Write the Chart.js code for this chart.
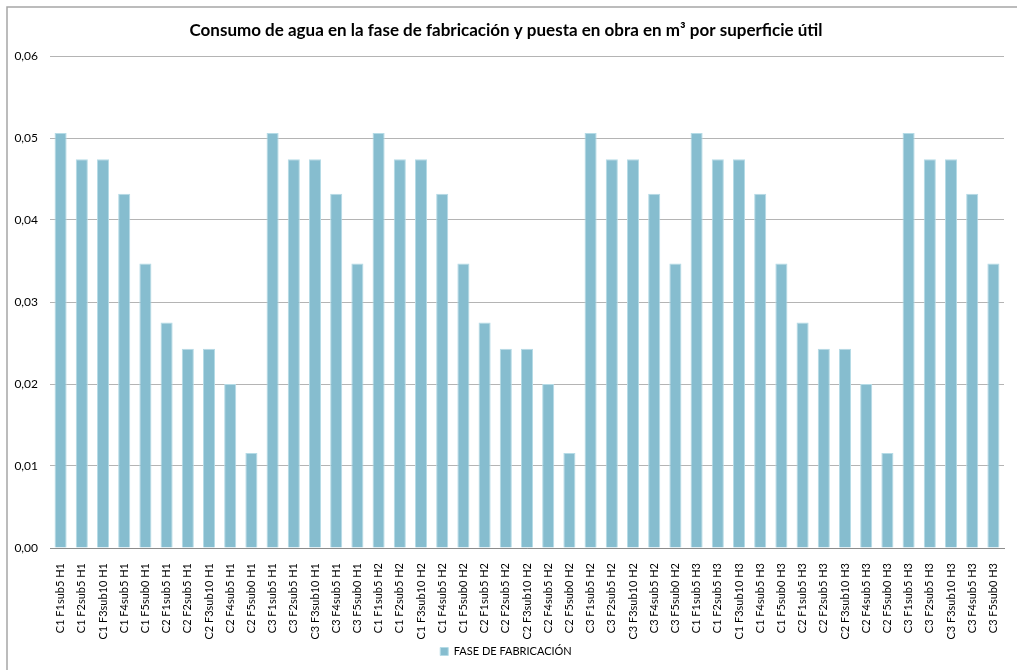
<!DOCTYPE html>
<html>
<head>
<meta charset="utf-8">
<script src="https://cdn.jsdelivr.net/npm/chart.js@4"></script>
<style>
  html, body { margin: 0; padding: 0; background: #fff; }
  #wrap { width: 1017px; height: 670px; }
</style>
</head>
<body>
<div id="wrap"><canvas id="consumoChart"></canvas></div>
<script>
// Categorías: cubierta (C), fachada (F) y hueco (H)
const cubiertas = ['C1', 'C2', 'C3'];
const fachadas = ['F1sub5', 'F2sub5', 'F3sub10', 'F4sub5', 'F5sub0'];
const huecos = ['H1', 'H2', 'H3'];

// Consumo por superficie útil (m³/m²), fase de fabricación
const consumoH1 = [0.0506, 0.0474, 0.0474, 0.0432, 0.0347,
                   0.0275, 0.0243, 0.0243, 0.0200, 0.0116,
                   0.0506, 0.0474, 0.0474, 0.0432, 0.0347];
const consumoH2 = [0.0506, 0.0474, 0.0474, 0.0432, 0.0347,
                   0.0275, 0.0243, 0.0243, 0.0200, 0.0116,
                   0.0506, 0.0474, 0.0474, 0.0432, 0.0347];
const consumoH3 = [0.0506, 0.0474, 0.0474, 0.0432, 0.0347,
                   0.0275, 0.0243, 0.0243, 0.0200, 0.0116,
                   0.0506, 0.0474, 0.0474, 0.0432, 0.0347];

const yTicks = [0, 0.01, 0.02, 0.03, 0.04, 0.05, 0.06];

const labels = [];
huecos.forEach(h => cubiertas.forEach(c => fachadas.forEach(f => labels.push(c + ' ' + f + ' ' + h))));
const valores = consumoH1.concat(consumoH2, consumoH3);

// Marco gris del área del gráfico
const marco = {
    id: 'marco',
    afterDraw(chart) {
        const ctx = chart.ctx;
        ctx.save();
        ctx.strokeStyle = '#a6a6a6';
        ctx.lineWidth = 1.5;
        ctx.strokeRect(7, 7, 1200, 1000);
        ctx.restore();
    }
};

const fuente = "'Lato', 'Open Sans', sans-serif";

new Chart(document.getElementById('consumoChart'), {
    type: 'bar',
    data: {
        labels: labels,
        datasets: [{
            label: 'FASE DE FABRICACIÓN',
            data: valores,
            backgroundColor: '#86bdcf',
            borderColor: '#b5dbe6',
            borderWidth: 1,
            barPercentage: 0.57,
            categoryPercentage: 1
        }]
    },
    options: {
        responsive: true,
        maintainAspectRatio: false,
        animation: false,
        layout: {
            padding: { left: 8, right: 13, top: 10, bottom: 3 }
        },
        plugins: {
            title: {
                display: true,
                text: 'Consumo de agua en la fase de fabricación y puesta en obra en m³ por superficie útil',
                color: '#000',
                font: { family: fuente, size: 17, weight: 'bold' },
                padding: { top: 10, bottom: 15.6 }
            },
            legend: {
                position: 'bottom',
                labels: {
                    color: '#000',
                    boxWidth: 8,
                    boxHeight: 8,
                    padding: 5,
                    font: { family: fuente, size: 11 }
                }
            },
            tooltip: { enabled: false }
        },
        scales: {
            x: {
                grid: { display: false },
                border: { color: '#8c8c8c', width: 1 },
                ticks: {
                    color: '#000',
                    autoSkip: false,
                    minRotation: 90,
                    maxRotation: 90,
                    padding: 7,
                    font: { family: fuente, size: 11 }
                },
                afterFit(scale) { scale.height = 93; }
            },
            y: {
                min: 0,
                max: 0.06,
                afterBuildTicks(scale) {
                    scale.ticks = yTicks.map(v => ({ value: v }));
                },
                grid: { color: '#b4b4b4', lineWidth: 1, drawTicks: false },
                border: { display: false },
                ticks: {
                    color: '#000',
                    padding: 12,
                    font: { family: fuente, size: 12 },
                    callback: v => v.toFixed(2).replace('.', ',')
                },
                afterFit(scale) { scale.width = 42; }
            }
        }
    },
    plugins: [marco]
});
</script>
</body>
</html>
